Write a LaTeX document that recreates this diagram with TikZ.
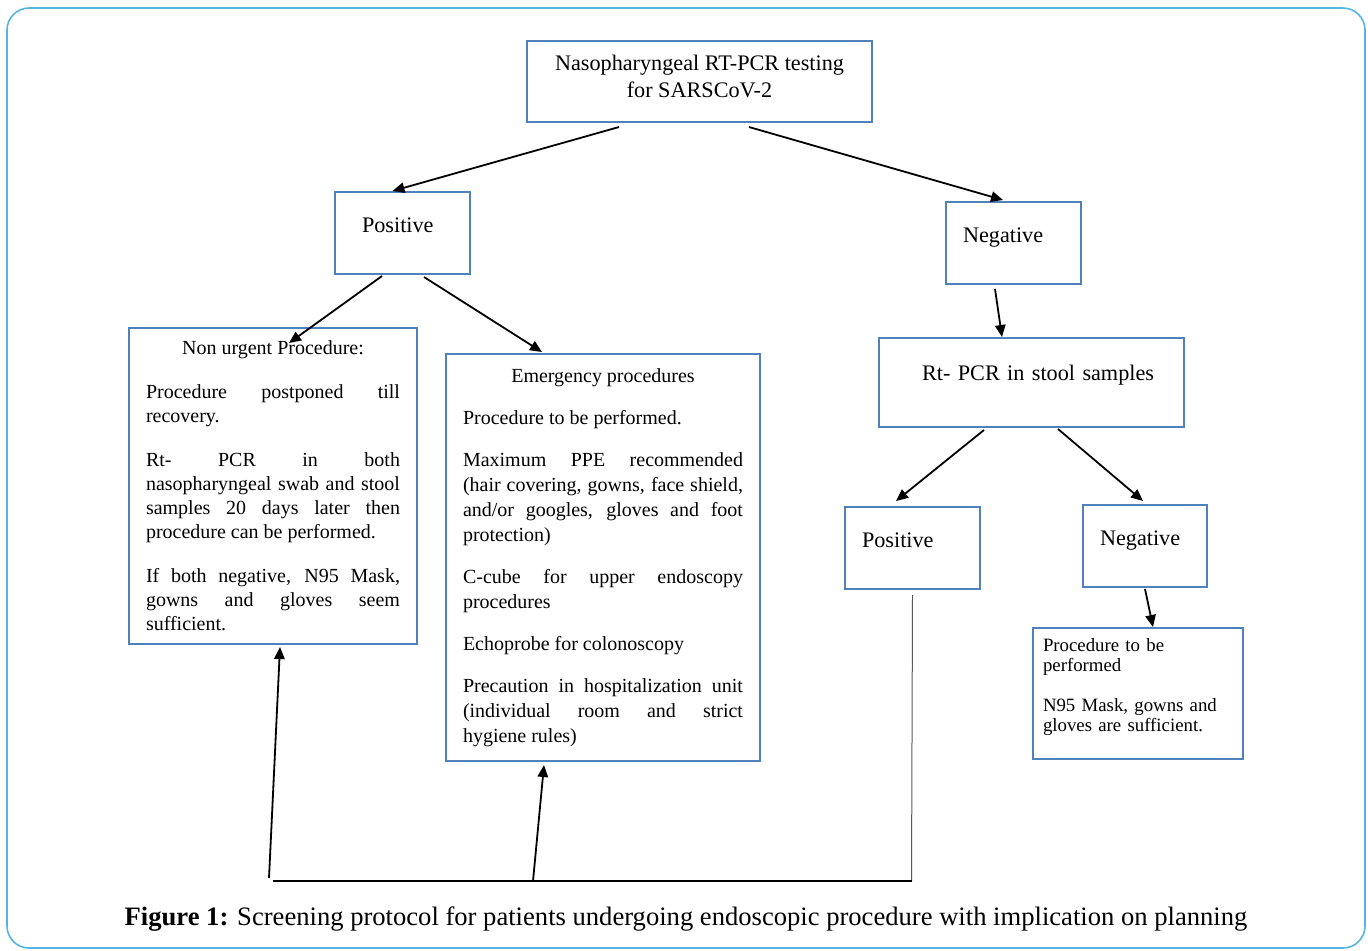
\documentclass[tikz,border=0pt]{standalone}
\usepackage{fontspec}
\setmainfont{Liberation Serif}
\usetikzlibrary{arrows.meta, calc}
\definecolor{boxblue}{RGB}{79,129,189}
\definecolor{framecol}{RGB}{84,182,224}
\newcommand{\boxpar}[1]{\setlength{\parskip}{#1}\setlength{\parindent}{0pt}\tolerance=9999 \hyphenpenalty=10000 \exhyphenpenalty=10000 }
\tikzset{>={Triangle[length=6pt, width=5.2pt]}, x=0.5pt, y=-0.5pt,
  flowbox/.style={draw=boxblue, line width=1pt, rectangle, inner ysep=0pt},
  lbl/.style={flowbox, anchor=west, font=\fontsize{11.1}{13.5}\selectfont, align=left, text height=8pt, text depth=8.6pt, minimum height=41pt},
  longbox/.style={flowbox, anchor=north west, align=justify, inner xsep=8.5pt},
  arr/.style={->, line width=0.9pt},}

\begin{document}
\begin{tikzpicture}
        \useasboundingbox (0,0) rectangle (1368,950);
        \draw[framecol, line width=0.8pt, rounded corners=11pt] (7,8) rectangle (1365,948);

        \node[flowbox, font=\fontsize{11.1}{13.5}\selectfont, align=center, minimum width=172.5pt, minimum height=40.5pt] at (699.5,81.5) (top) {Nasopharyngeal RT-PCR testing\\for SARSCoV-2\rule[-5pt]{0pt}{0pt}};
        \node[lbl, inner xsep=13.5pt, text width=40.5pt] at (334,233) (posL) {Positive};
        \node[lbl, inner xsep=8.5pt, text width=50.5pt] at (945,243) (negR) {Negative};
        \node[lbl, inner xsep=15pt, text width=122.5pt, align=right, minimum height=44.5pt, text depth=10.1pt] at (878,382.5) (stool) {Rt- PCR in stool samples};
        \node[lbl, inner xsep=8.5pt, text width=50.5pt] at (844,548) (posS) {Positive};
        \node[lbl, inner xsep=8.5pt, text width=45pt] at (1082,546) (negS) {Negative};

        \node[longbox, text width=127pt, minimum height=158pt, font=\fontsize{10}{12}\selectfont] at (128,327) (nonurg) {\boxpar{10pt}{\centering Non urgent Procedure:\par}
          Procedure postponed till\linebreak recovery.\par
          Rt- PCR in both\linebreak nasopharyngeal swab and stool\linebreak samples 20 days later then\linebreak procedure can be performed.\par
          If both negative, N95 Mask,\linebreak gowns and gloves seem\linebreak sufficient.};
        \node[longbox, text width=140pt, minimum height=203.5pt, font=\fontsize{10}{12.5}\selectfont] at (445,353) (emerg) {\boxpar{8.5pt}{\centering Emergency procedures\par}
          Procedure to be performed.\par
          Maximum PPE recommended\linebreak (hair covering, gowns, face shield,\linebreak and/or googles, gloves and foot\linebreak protection)\par
          C-cube for upper endoscopy\linebreak procedures\par
          Echoprobe for colonoscopy\par
          Precaution in hospitalization unit\linebreak (individual room and strict\linebreak hygiene rules)};
        \node[flowbox, anchor=north west, text width=95pt, inner xsep=5pt, align=left, minimum height=65.5pt, font=\fontsize{9.4}{10}\selectfont] at (1032,627) (final) {\boxpar{10pt}Procedure to be\linebreak performed\par
          N95 Mask, gowns and\linebreak gloves are sufficient.\rule[-9pt]{0pt}{0pt}};

        \node[anchor=base, font=\fontsize{13.3}{16}\selectfont] at (686,925) (caption) {\textbf{Figure 1:} Screening protocol for patients undergoing endoscopic procedure with implication on planning};

        \coordinate (jl) at (269,878);
        \coordinate (hl) at (273,881);
        \coordinate (jm) at (533,881);
        \coordinate (jr) at (911.5,881);

        \draw[arr] ($(top.south)+(-80.5,4)$) -- ($(posL.north)+(-10,0)$);
        \draw[arr] ($(top.south)+(49.5,4)$) -- ($(negR.north)+(-10.5,-1)$);
        \draw[arr] ($(posL.south)+(-20.5,1)$) -- ($(nonurg.north)+(16,16)$);
        \draw[arr] ($(posL.south)+(21.5,2)$) -- ($(emerg.north)+(-61,-1)$);
        \draw[arr] ($(negR.south)+(-18.5,4)$) -- ($(stool.north)+(-29.5,0)$);
        \draw[arr] ($(stool.south)+(-47.5,2)$) -- ($(posS.north)+(-16.5,-5)$);
        \draw[arr] ($(stool.south)+(26.5,1)$) -- ($(negS.north)+(-2,-3)$);
        \draw[arr] ($(negS.south)+(0,1)$) -- ($(final.north)+(15,0)$);
        \draw[gray!70!black, line width=0.5pt] ($(posS.south)+(0,5)$) -- (jr);
        \draw[line width=0.7pt] (hl) -- (jr);
        \draw[arr] (jl) -- ($(nonurg.south)+(7,2)$);
        \draw[arr] (jm) -- ($(emerg.south)+(-59,3)$);
    \end{tikzpicture}
\end{document}
